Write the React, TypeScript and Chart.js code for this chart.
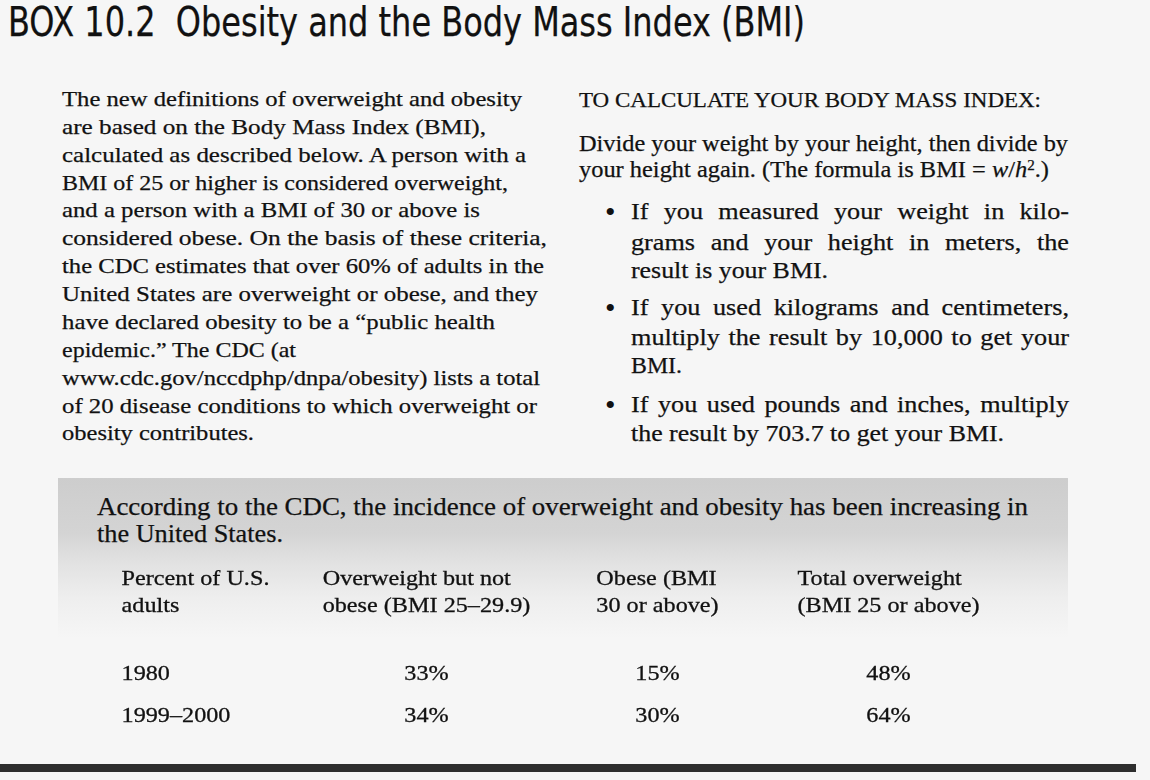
import React, { useEffect, useLayoutEffect, useRef } from "react";
import { Chart, registerables } from "chart.js";

Chart.register(...registerables);

// ---------------- table data ----------------
const columnHeaders: string[][] = [
  ["Percent of U.S.", "adults"],
  ["Overweight but not", "obese (BMI 25–29.9)"],
  ["Obese (BMI", "30 or above)"],
  ["Total overweight", "(BMI 25 or above)"],
];
const columnKeys: string[] = columnHeaders.map((h) => h.join(" "));
const periods: string[] = ["1980", "1999–2000"];
const overweightNotObese: number[] = [33, 34];
const obese: number[] = [15, 30];
const totalOverweight: number[] = [48, 64];

// ---------------- prose layout ----------------
const SERIF = "'Liberation Serif', 'Times New Roman', serif";
const SANS_NARROW = "'Liberation Sans Narrow', 'DejaVu Sans Condensed', 'Liberation Sans', sans-serif";
const INK = "#111111";
const JUSTIFY_SCALE = 1.14;

type LineSpec = {
  x: number;
  y: number;
  right: number;
  size: number;
  family: string;
  justify?: boolean;
  content: React.ReactNode;
};

const leftCol = (x: number, y: number, right: number, text: string): LineSpec => ({
  x, y, right, size: 22, family: SERIF, content: text,
});
const rightCol = (x: number, y: number, right: number, text: React.ReactNode, justify = false): LineSpec => ({
  x, y, right, size: 23, family: SERIF, content: text, justify,
});

const lines: LineSpec[] = [
  { x: 8, y: 24, right: 805, size: 40, family: SANS_NARROW, content: "BOX 10.2\u00a0\u00a0Obesity and the Body Mass Index (BMI)" },
  leftCol(62, 100, 522, "The new definitions of overweight and obesity"),
  leftCol(62, 128, 486, "are based on the Body Mass Index (BMI),"),
  leftCol(62, 156, 526, "calculated as described below. A person with a"),
  leftCol(62, 184, 508, "BMI of 25 or higher is considered overweight,"),
  leftCol(62, 211, 480, "and a person with a BMI of 30 or above is"),
  leftCol(62, 239, 547, "considered obese. On the basis of these criteria,"),
  leftCol(62, 267, 544, "the CDC estimates that over 60% of adults in the"),
  leftCol(62, 295, 538, "United States are overweight or obese, and they"),
  leftCol(62, 323, 495, "have declared obesity to be a “public health"),
  leftCol(62, 351, 296, "epidemic.” The CDC (at"),
  leftCol(62, 379, 540, "www.cdc.gov/nccdphp/dnpa/obesity) lists a total"),
  leftCol(62, 407, 537, "of 20 disease conditions to which overweight or"),
  leftCol(62, 434, 254, "obesity contributes."),
  { x: 579, y: 102, right: 1041, size: 21, family: SERIF, content: "TO CALCULATE YOUR BODY MASS INDEX:" },
  rightCol(579, 145, 1068, "Divide your weight by your height, then divide by"),
  rightCol(
    579,
    171,
    1049,
    <>
      your height again. (The formula is BMI = <i>w</i>/<i>h</i>
      <sup style={{ fontSize: "0.62em", verticalAlign: "0.5em", lineHeight: 0 }}>2</sup>.)
    </>
  ),
  rightCol(631, 213, 1069, "If you measured your weight in kilo-", true),
  rightCol(631, 244, 1069, "grams and your height in meters, the", true),
  rightCol(631, 272, 828, "result is your BMI."),
  rightCol(631, 309, 1069, "If you used kilograms and centimeters,", true),
  rightCol(631, 339, 1069, "multiply the result by 10,000 to get your", true),
  rightCol(631, 367, 682, "BMI."),
  rightCol(631, 406, 1069, "If you used pounds and inches, multiply", true),
  rightCol(631, 435, 1004, "the result by 703.7 to get your BMI."),
  { x: 97, y: 508, right: 1028, size: 25, family: SERIF, content: "According to the CDC, the incidence of overweight and obesity has been increasing in" },
  { x: 97, y: 535, right: 283, size: 25, family: SERIF, content: "the United States." },
];

const bullets: number[] = [213, 309, 406];

function FitLine({ spec }: { spec: LineSpec }) {
  const ref = useRef<HTMLSpanElement>(null);
  useLayoutEffect(() => {
    const el = ref.current;
    if (!el) return;
    const target = spec.right - spec.x;
    el.style.transform = "none";
    el.style.wordSpacing = "0px";
    const natural = el.getBoundingClientRect().width;
    if (spec.justify) {
      const spaces = ((el.textContent || "").match(/ /g) || []).length;
      const extra = spaces ? (target / JUSTIFY_SCALE - natural) / spaces : 0;
      el.style.wordSpacing = `${Math.max(0, extra)}px`;
      const n2 = el.getBoundingClientRect().width;
      el.style.transform = `scaleX(${target / n2})`;
    } else {
      el.style.transform = `scaleX(${target / natural})`;
    }
  }, [spec]);
  return (
    <span
      ref={ref}
      style={{
        position: "absolute",
        left: spec.x,
        top: spec.y - 0.56 * spec.size,
        fontFamily: spec.family,
        fontSize: spec.size,
        lineHeight: `${spec.size}px`,
        whiteSpace: "pre",
        color: INK,
        WebkitTextStroke: "0.25px #111111",
        transformOrigin: "left center",
      }}
    >
      {spec.content}
    </span>
  );
}

// ---------------- chart (the table) ----------------
const TABLE_FONT_SIZE = 22;
const TABLE_SCALE_X = 1.1;
const TABLE_FONT = `${TABLE_FONT_SIZE}px 'Liberation Serif', 'Times New Roman', serif`;

function drawScaled(ctx: CanvasRenderingContext2D, text: string, x: number, y: number, align: CanvasTextAlign) {
  ctx.save();
  ctx.translate(x, y);
  ctx.scale(TABLE_SCALE_X, 1);
  ctx.textAlign = align;
  ctx.fillText(text, 0, 0);
  ctx.strokeText(text, 0, 0);
  ctx.restore();
}

const tablePlugin = {
  id: "tableText",
  afterDatasetsDraw(chart: any) {
    const ctx: CanvasRenderingContext2D = chart.ctx;
    const xs = chart.scales.x;
    const ys = chart.scales.y;
    ctx.save();
    ctx.font = TABLE_FONT;
    ctx.fillStyle = INK;
    ctx.strokeStyle = INK;
    ctx.lineWidth = 0.3;
    ctx.textBaseline = "alphabetic";
    const baseShift = TABLE_FONT_SIZE * 0.28;
    const firstRowY = ys.getPixelForValue(0);

    // headers: left-aligned multi-line blocks centred on each column
    const blockLefts: number[] = [];
    columnHeaders.forEach((hdr, i) => {
      const cx = xs.getPixelForValue(i);
      const w = Math.max(...hdr.map((t) => ctx.measureText(t).width)) * TABLE_SCALE_X;
      const left = cx - w / 2;
      blockLefts.push(left);
      hdr.forEach((t, j) => {
        drawScaled(ctx, t, left, firstRowY - 95 + j * 27 + baseShift, "left");
      });
    });

    chart.data.datasets.forEach((ds: any, di: number) => {
      const meta = chart.getDatasetMeta(di);
      meta.data.forEach((el: any, k: number) => {
        const raw = ds.data[k];
        if (ds.kind === "row") {
          drawScaled(ctx, raw.y, blockLefts[0], el.y + baseShift, "left");
        } else {
          drawScaled(ctx, `${raw.v}%`, el.x, el.y + baseShift, "center");
        }
      });
    });
    ctx.restore();
  },
};

function TableChart() {
  const ref = useRef<HTMLCanvasElement>(null);
  useEffect(() => {
    if (!ref.current) return;
    const valueSeries = [overweightNotObese, obese, totalOverweight];
    const chart = new Chart(ref.current, {
      type: "scatter",
      data: {
        datasets: [
          {
            label: columnKeys[0],
            kind: "row",
            data: periods.map((p) => ({ x: columnKeys[0], y: p })),
          } as any,
          ...valueSeries.map((vals, s) => ({
            label: columnKeys[s + 1],
            kind: "value",
            data: periods.map((p, i) => ({ x: columnKeys[s + 1], y: p, v: vals[i] })),
          })) as any,
        ],
      },
      options: {
        animation: false,
        responsive: false,
        maintainAspectRatio: false,
        events: [],
        layout: { padding: { left: 80, right: 146, top: 653, bottom: 43 } },
        plugins: { legend: { display: false }, tooltip: { enabled: false } },
        elements: { point: { radius: 0, hoverRadius: 0 } },
        scales: {
          x: { type: "category", labels: columnKeys, offset: true, display: false },
          y: { type: "category", labels: periods, offset: true, display: false },
        },
      } as any,
      plugins: [tablePlugin],
    });
    return () => chart.destroy();
  }, []);
  return (
    <canvas
      ref={ref}
      width={1150}
      height={780}
      style={{ position: "absolute", left: 0, top: 0, width: 1150, height: 780, pointerEvents: "none" }}
    />
  );
}

export default function App() {
  return (
    <div
      style={{
        position: "absolute",
        left: 0,
        top: 0,
        width: 1150,
        height: 780,
        overflow: "hidden",
        background: "#f6f6f6",
      }}
    >
      <div
        style={{
          position: "absolute",
          left: 58,
          top: 478,
          width: 1010,
          height: 160,
          background:
            "linear-gradient(to bottom, #cdcdcd 0px, #d4d4d4 55px, #e2e2e2 85px, #eeeeee 120px, #f6f6f6 160px)",
        }}
      />
      {lines.map((l, i) => (
        <FitLine key={i} spec={l} />
      ))}
      {bullets.map((y, i) => (
        <span
          key={`b${i}`}
          style={{
            position: "absolute",
            left: 605,
            top: y - 16,
            fontFamily: SERIF,
            fontSize: 30,
            lineHeight: "30px",
            color: INK,
          }}
        >
          •
        </span>
      ))}
      <div style={{ position: "absolute", left: 0, top: 764, width: 1136, height: 8, background: "#2e2e2e" }} />
      <TableChart />
    </div>
  );
}
